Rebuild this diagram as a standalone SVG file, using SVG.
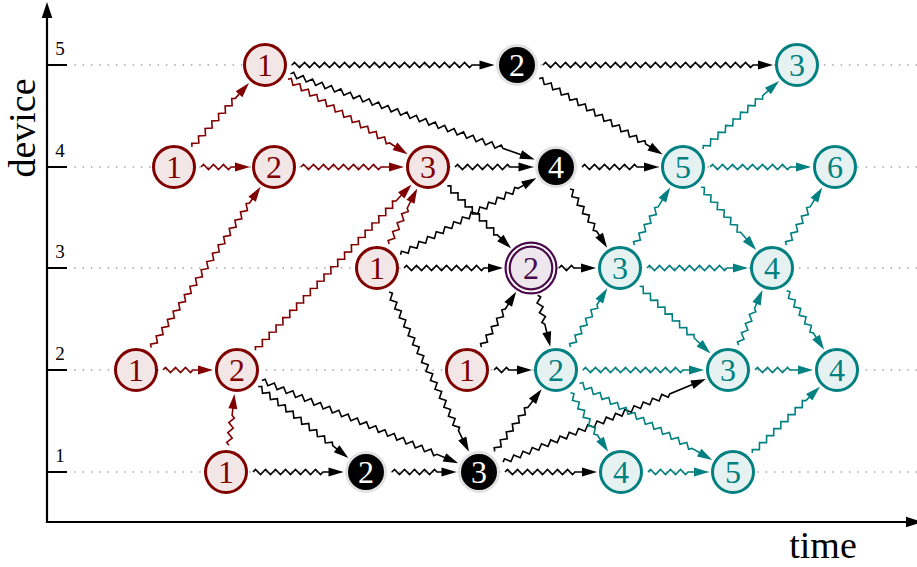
<svg xmlns="http://www.w3.org/2000/svg" width="917" height="567" viewBox="0 0 917 567">
<style>
text{font-family:"Liberation Serif","DejaVu Serif",serif;text-anchor:middle}
.node text{font-family:"Liberation Serif","DejaVu Serif",serif;font-size:32px}
.nr circle{fill:#f2e6e6;stroke:#800000;stroke-width:3}
.nr text{fill:#800000}
.nt circle{fill:#e6f2f2;stroke:#008080;stroke-width:3}
.nt text{fill:#008080}
.nk circle{fill:#000;stroke:#e2e2e2;stroke-width:3}
.nk text{fill:#fff}
.e path{fill:none;stroke-width:1.6;stroke-linejoin:miter}
.e .r{stroke:#800000;marker-end:url(#ar)}
.e .k{stroke:#000;marker-end:url(#ak)}
.e .t{stroke:#008080;marker-end:url(#at)}
.tick{font-size:19px}
</style>
<defs>
<marker id="ar" markerUnits="userSpaceOnUse" orient="auto" markerWidth="30" markerHeight="30" viewBox="-15 -15 30 30" refX="0" refY="0"><path d="M-11-4.5L4 0-11 4.5Z" fill="#800000"/></marker>
<marker id="ak" markerUnits="userSpaceOnUse" orient="auto" markerWidth="30" markerHeight="30" viewBox="-15 -15 30 30" refX="0" refY="0"><path d="M-11-4.5L4 0-11 4.5Z" fill="#000"/></marker>
<marker id="at" markerUnits="userSpaceOnUse" orient="auto" markerWidth="30" markerHeight="30" viewBox="-15 -15 30 30" refX="0" refY="0"><path d="M-11-4.5L4 0-11 4.5Z" fill="#008080"/></marker>
</defs>
<rect width="917" height="567" fill="#fff"/>
<g id="grid" stroke="#b3b3b3" stroke-width="1.8" stroke-linecap="round" stroke-dasharray="0 8.33" fill="none">
<path d="M75 65H917M75 167H917M75 268H917M75 370H917M75 472H917"/>
</g>
<g id="axes">
<path d="M47 523.1V14M45.9 522H908M47 65H67M47 167H67M47 268H67M47 370H67M47 472H67" stroke="#000" stroke-width="2.2" fill="none"/>
<path d="M47 2L52.3 18 41.7 18Z" fill="#000"/>
<path d="M922 522L906 516.7 906 527.3Z" fill="#000"/>
<text class="tick" x="60" y="55">5</text>
<text class="tick" x="60" y="157">4</text>
<text class="tick" x="60" y="258">3</text>
<text class="tick" x="60" y="360">2</text>
<text class="tick" x="60" y="462">1</text>
<text x="0" y="0" font-size="38" transform="translate(35 128) rotate(-90)">device</text>
<text x="823" y="558" font-size="38">time</text>
</g>
<g id="connectors" class="e">
<path class="r" transform="translate(192 146.9) rotate(-48.27)" d="M0 0l2.5-2.5 5 5 5-5 5 5 5-5 5 5 5-5 5 5 5-5 5 5 5-5 5 5 5-5 2.5 2.5H81.7"/>
<path class="r" transform="translate(201 167)" d="M0 0l2.5-2.5 5 5 5-5 5 5 5-5 5 5 2.5-2.5H45"/>
<path class="r" transform="translate(301 167)" d="M0 0l2.5-2.5 5 5 5-5 5 5 5-5 5 5 5-5 5 5 5-5 5 5 5-5 5 5 5-5 5 5 5-5 5 5 2.5-2.5H99"/>
<path class="r" transform="translate(287.9 79.3) rotate(32.04)" d="M0 0l2.5-2.5 5 5 5-5 5 5 5-5 5 5 5-5 5 5 5-5 5 5 5-5 5 5 5-5 5 5 5-5 5 5 5-5 5 5 5-5 5 5 5-5 5 5 5-5 5 5 2.5-2.5H137.3"/>
<path class="r" transform="translate(163 370)" d="M0 0l2.5-2.5 5 5 5-5 5 5 5-5 5 5 2.5-2.5H46"/>
<path class="r" transform="translate(151.2 347.7) rotate(-55.79)" d="M0 0l2.5-2.5 5 5 5-5 5 5 5-5 5 5 5-5 5 5 5-5 5 5 5-5 5 5 5-5 5 5 5-5 5 5 5-5 5 5 5-5 5 5 5-5 5 5 5-5 5 5 5-5 5 5 5-5 5 5 5-5 5 5 5-5 5 5 5-5 5 5 5-5 2.5 2.5H190.5"/>
<path class="r" transform="translate(255.5 350.3) rotate(-46.74)" d="M0 0l2.5-2.5 5 5 5-5 5 5 5-5 5 5 5-5 5 5 5-5 5 5 5-5 5 5 5-5 5 5 5-5 5 5 5-5 5 5 5-5 5 5 5-5 5 5 5-5 5 5 5-5 5 5 5-5 5 5 5-5 5 5 5-5 5 5 5-5 5 5 5-5 5 5 5-5 5 5 5-5 5 5 5-5 2.5 2.5H223.7"/>
<path class="r" transform="translate(389.2 243.9) rotate(-63.21)" d="M0 0l2.5-2.5 5 5 5-5 5 5 5-5 5 5 5-5 5 5 2.5-2.5H58.2"/>
<path class="r" transform="translate(228.9 445.2) rotate(-83.84)" d="M0 0l2.5-2.5 5 5 5-5 5 5 5-5 5 5 2.5-2.5H47.6"/>
<path class="k" transform="translate(292 65)" d="M0 0l2.5-2.5 5 5 5-5 5 5 5-5 5 5 5-5 5 5 5-5 5 5 5-5 5 5 5-5 5 5 5-5 5 5 5-5 5 5 5-5 5 5 5-5 5 5 5-5 5 5 5-5 5 5 5-5 5 5 5-5 5 5 5-5 5 5 5-5 5 5 5-5 5 5 2.5-2.5H198.5"/>
<path class="k" transform="translate(290.5 73.9) rotate(19.32)" d="M0 0l2.5-2.5 5 5 5-5 5 5 5-5 5 5 5-5 5 5 5-5 5 5 5-5 5 5 5-5 5 5 5-5 5 5 5-5 5 5 5-5 5 5 5-5 5 5 5-5 5 5 5-5 5 5 5-5 5 5 5-5 5 5 5-5 5 5 5-5 5 5 5-5 5 5 5-5 5 5 5-5 5 5 5-5 5 5 5-5 5 5 5-5 2.5 2.5H254.9"/>
<path class="k" transform="translate(543 65)" d="M0 0l2.5-2.5 5 5 5-5 5 5 5-5 5 5 5-5 5 5 5-5 5 5 5-5 5 5 5-5 5 5 5-5 5 5 5-5 5 5 5-5 5 5 5-5 5 5 5-5 5 5 5-5 5 5 5-5 5 5 5-5 5 5 5-5 5 5 5-5 5 5 5-5 5 5 5-5 5 5 5-5 5 5 5-5 5 5 2.5-2.5H226"/>
<path class="k" transform="translate(539.2 78.6) rotate(31.57)" d="M0 0l2.5-2.5 5 5 5-5 5 5 5-5 5 5 5-5 5 5 5-5 5 5 5-5 5 5 5-5 5 5 5-5 5 5 5-5 5 5 5-5 5 5 5-5 5 5 5-5 5 5 5-5 2.5 2.5H140.8"/>
<path class="k" transform="translate(455 167)" d="M0 0l2.5-2.5 5 5 5-5 5 5 5-5 5 5 5-5 5 5 5-5 5 5 5-5 2.5 2.5H74.5"/>
<path class="k" transform="translate(582 167)" d="M0 0l2.5-2.5 5 5 5-5 5 5 5-5 5 5 5-5 5 5 5-5 5 5 5-5 2.5 2.5H73"/>
<path class="k" transform="translate(447.3 185.9) rotate(44.44)" d="M0 0l2.5-2.5 5 5 5-5 5 5 5-5 5 5 5-5 5 5 5-5 5 5 5-5 5 5 5-5 5 5 2.5-2.5H85.3"/>
<path class="k" transform="translate(400.5 254.7) rotate(-29.43)" d="M0 0l2.5-2.5 5 5 5-5 5 5 5-5 5 5 5-5 5 5 5-5 5 5 5-5 5 5 5-5 5 5 5-5 5 5 5-5 5 5 5-5 5 5 5-5 5 5 5-5 5 5 5-5 5 5 5-5 2.5 2.5H152"/>
<path class="k" transform="translate(569.9 189) rotate(57.64)" d="M0 0l2.5-2.5 5 5 5-5 5 5 5-5 5 5 5-5 5 5 5-5 5 5 2.5-2.5H65.6"/>
<path class="k" transform="translate(404 268)" d="M0 0l2.5-2.5 5 5 5-5 5 5 5-5 5 5 5-5 5 5 5-5 5 5 5-5 5 5 5-5 5 5 5-5 5 5 2.5-2.5H95"/>
<path class="k" transform="translate(559 268)" d="M0 0l2.5-2.5 5 5 5-5 2.5 2.5H33"/>
<path class="k" transform="translate(389.1 292.1) rotate(63.43)" d="M0 0l2.5-2.5 5 5 5-5 5 5 5-5 5 5 5-5 5 5 5-5 5 5 5-5 5 5 5-5 5 5 5-5 5 5 5-5 5 5 5-5 5 5 5-5 5 5 5-5 5 5 5-5 5 5 5-5 5 5 5-5 5 5 5-5 2.5 2.5H174.6"/>
<path class="k" transform="translate(481.4 347.1) rotate(-57.89)" d="M0 0l2.5-2.5 5 5 5-5 5 5 5-5 5 5 5-5 5 5 5-5 2.5 2.5H61.4"/>
<path class="k" transform="translate(537.7 295.2) rotate(76.23)" d="M0 0l2.5-2.5 5 5 5-5 5 5 5-5 5 5 2.5-2.5H49"/>
<path class="k" transform="translate(494 370)" d="M0 0l2.5-2.5 5 5 5-5 2.5 2.5H34"/>
<path class="k" transform="translate(258.2 386.7) rotate(38.33)" d="M0 0l2.5-2.5 5 5 5-5 5 5 5-5 5 5 5-5 5 5 5-5 5 5 5-5 5 5 5-5 5 5 5-5 5 5 5-5 5 5 5-5 2.5 2.5H111"/>
<path class="k" transform="translate(261.9 380.5) rotate(22.86)" d="M0 0l2.5-2.5 5 5 5-5 5 5 5-5 5 5 5-5 5 5 5-5 5 5 5-5 5 5 5-5 5 5 5-5 5 5 5-5 5 5 5-5 5 5 5-5 5 5 5-5 5 5 5-5 5 5 5-5 5 5 5-5 5 5 5-5 5 5 5-5 5 5 5-5 5 5 5-5 5 5 2.5-2.5H209.1"/>
<path class="k" transform="translate(253 472)" d="M0 0l2.5-2.5 5 5 5-5 5 5 5-5 5 5 5-5 5 5 5-5 5 5 5-5 5 5 5-5 5 5 2.5-2.5H86.5"/>
<path class="k" transform="translate(392 472)" d="M0 0l2.5-2.5 5 5 5-5 5 5 5-5 5 5 5-5 5 5 5-5 2.5 2.5H60.5"/>
<path class="k" transform="translate(494.7 451.3) rotate(-52.95)" d="M0 0l2.5-2.5 5 5 5-5 5 5 5-5 5 5 5-5 5 5 5-5 5 5 5-5 2.5 2.5H73.8"/>
<path class="k" transform="translate(503.1 462.1) rotate(-22.27)" d="M0 0l2.5-2.5 5 5 5-5 5 5 5-5 5 5 5-5 5 5 5-5 5 5 5-5 5 5 5-5 5 5 5-5 5 5 5-5 5 5 5-5 5 5 5-5 5 5 5-5 5 5 5-5 5 5 5-5 5 5 5-5 5 5 5-5 5 5 5-5 5 5 5-5 5 5 2.5-2.5H215.1"/>
<path class="k" transform="translate(505 472)" d="M0 0l2.5-2.5 5 5 5-5 5 5 5-5 5 5 5-5 5 5 5-5 5 5 5-5 5 5 5-5 5 5 2.5-2.5H88"/>
<path class="t" transform="translate(703.1 149) rotate(-41.82)" d="M0 0l2.5-2.5 5 5 5-5 5 5 5-5 5 5 5-5 5 5 5-5 5 5 5-5 5 5 5-5 5 5 5-5 5 5 2.5-2.5H98"/>
<path class="t" transform="translate(710 167)" d="M0 0l2.5-2.5 5 5 5-5 5 5 5-5 5 5 5-5 5 5 5-5 5 5 5-5 5 5 5-5 5 5 5-5 5 5 2.5-2.5H97"/>
<path class="t" transform="translate(700.9 187.3) rotate(48.62)" d="M0 0l2.5-2.5 5 5 5-5 5 5 5-5 5 5 5-5 5 5 5-5 5 5 5-5 5 5 2.5-2.5H79.6"/>
<path class="t" transform="translate(634.3 245.1) rotate(-58.05)" d="M0 0l2.5-2.5 5 5 5-5 5 5 5-5 5 5 5-5 5 5 5-5 2.5 2.5H64"/>
<path class="t" transform="translate(647 268)" d="M0 0l2.5-2.5 5 5 5-5 5 5 5-5 5 5 5-5 5 5 5-5 5 5 5-5 5 5 5-5 5 5 5-5 5 5 2.5-2.5H97"/>
<path class="t" transform="translate(639.6 286.5) rotate(43.36)" d="M0 0l2.5-2.5 5 5 5-5 5 5 5-5 5 5 5-5 5 5 5-5 5 5 5-5 5 5 5-5 5 5 5-5 2.5 2.5H93.6"/>
<path class="t" transform="translate(786.3 245.1) rotate(-58.05)" d="M0 0l2.5-2.5 5 5 5-5 5 5 5-5 5 5 5-5 5 5 5-5 2.5 2.5H64"/>
<path class="t" transform="translate(786.5 290.8) rotate(57.49)" d="M0 0l2.5-2.5 5 5 5-5 5 5 5-5 5 5 5-5 5 5 5-5 5 5 2.5-2.5H66"/>
<path class="t" transform="translate(738.7 345.2) rotate(-66.67)" d="M0 0l2.5-2.5 5 5 5-5 5 5 5-5 5 5 5-5 5 5 2.5-2.5H56.1"/>
<path class="t" transform="translate(755 370)" d="M0 0l2.5-2.5 5 5 5-5 5 5 5-5 5 5 5-5 2.5 2.5H54"/>
<path class="t" transform="translate(570.4 347.1) rotate(-57.89)" d="M0 0l2.5-2.5 5 5 5-5 5 5 5-5 5 5 5-5 5 5 5-5 5 5 2.5-2.5H65.4"/>
<path class="t" transform="translate(583 370)" d="M0 0l2.5-2.5 5 5 5-5 5 5 5-5 5 5 5-5 5 5 5-5 5 5 5-5 5 5 5-5 5 5 5-5 5 5 5-5 5 5 5-5 5 5 2.5-2.5H117"/>
<path class="t" transform="translate(570.5 392.8) rotate(57.49)" d="M0 0l2.5-2.5 5 5 5-5 5 5 5-5 5 5 5-5 5 5 5-5 5 5 2.5-2.5H66"/>
<path class="t" transform="translate(579.4 383.5) rotate(29.95)" d="M0 0l2.5-2.5 5 5 5-5 5 5 5-5 5 5 5-5 5 5 5-5 5 5 5-5 5 5 5-5 5 5 5-5 5 5 5-5 5 5 5-5 5 5 5-5 5 5 5-5 5 5 5-5 5 5 2.5-2.5H149.3"/>
<path class="t" transform="translate(648 472)" d="M0 0l2.5-2.5 5 5 5-5 5 5 5-5 5 5 5-5 5 5 2.5-2.5H57"/>
<path class="t" transform="translate(752.3 453.1) rotate(-44.44)" d="M0 0l2.5-2.5 5 5 5-5 5 5 5-5 5 5 5-5 5 5 5-5 5 5 5-5 5 5 5-5 5 5 5-5 2.5 2.5H90.7"/>
</g>
<g id="nodes">
<g id="n5-1" class="node nr"><circle cx="265" cy="65" r="20.5"/><text x="265" y="76">1</text></g>
<g id="n5-2" class="node nk"><circle cx="517" cy="65" r="19.5"/><text x="517" y="76">2</text></g>
<g id="n5-3" class="node nt"><circle cx="797" cy="65" r="20.5"/><text x="797" y="76">3</text></g>
<g id="n4-1" class="node nr"><circle cx="174" cy="167" r="20.5"/><text x="174" y="178">1</text></g>
<g id="n4-2" class="node nr"><circle cx="274" cy="167" r="20.5"/><text x="274" y="178">2</text></g>
<g id="n4-3" class="node nr"><circle cx="428" cy="167" r="20.5"/><text x="428" y="178">3</text></g>
<g id="n4-4" class="node nk"><circle cx="556" cy="167" r="19.5"/><text x="556" y="178">4</text></g>
<g id="n4-5" class="node nt"><circle cx="683" cy="167" r="20.5"/><text x="683" y="178">5</text></g>
<g id="n4-6" class="node nt"><circle cx="835" cy="167" r="20.5"/><text x="835" y="178">6</text></g>
<g id="n3-1" class="node nr"><circle cx="377" cy="268" r="20.5"/><text x="377" y="279">1</text></g>
<g id="n3-2" class="node"><circle cx="531" cy="268" r="25.4" fill="#fff" stroke="#4a0a4a" stroke-width="2.2"/><circle cx="531" cy="268" r="21.3" fill="#ede6ed" stroke="#4a0a4a" stroke-width="2.2"/><text x="531" y="279" fill="#4a0a4a">2</text></g>
<g id="n3-3" class="node nt"><circle cx="620" cy="268" r="20.5"/><text x="620" y="279">3</text></g>
<g id="n3-4" class="node nt"><circle cx="772" cy="268" r="20.5"/><text x="772" y="279">4</text></g>
<g id="n2-1" class="node nr"><circle cx="136" cy="370" r="20.5"/><text x="136" y="381">1</text></g>
<g id="n2-2" class="node nr"><circle cx="237" cy="370" r="20.5"/><text x="237" y="381">2</text></g>
<g id="n2-1b" class="node nr"><circle cx="467" cy="370" r="20.5"/><text x="467" y="381">1</text></g>
<g id="n2-2b" class="node nt"><circle cx="556" cy="370" r="20.5"/><text x="556" y="381">2</text></g>
<g id="n2-3" class="node nt"><circle cx="728" cy="370" r="20.5"/><text x="728" y="381">3</text></g>
<g id="n2-4" class="node nt"><circle cx="837" cy="370" r="20.5"/><text x="837" y="381">4</text></g>
<g id="n1-1" class="node nr"><circle cx="226" cy="472" r="20.5"/><text x="226" y="483">1</text></g>
<g id="n1-2" class="node nk"><circle cx="366" cy="472" r="19.5"/><text x="366" y="483">2</text></g>
<g id="n1-3" class="node nk"><circle cx="479" cy="472" r="19.5"/><text x="479" y="483">3</text></g>
<g id="n1-4" class="node nt"><circle cx="621" cy="472" r="20.5"/><text x="621" y="483">4</text></g>
<g id="n1-5" class="node nt"><circle cx="733" cy="472" r="20.5"/><text x="733" y="483">5</text></g>
</g>
</svg>
